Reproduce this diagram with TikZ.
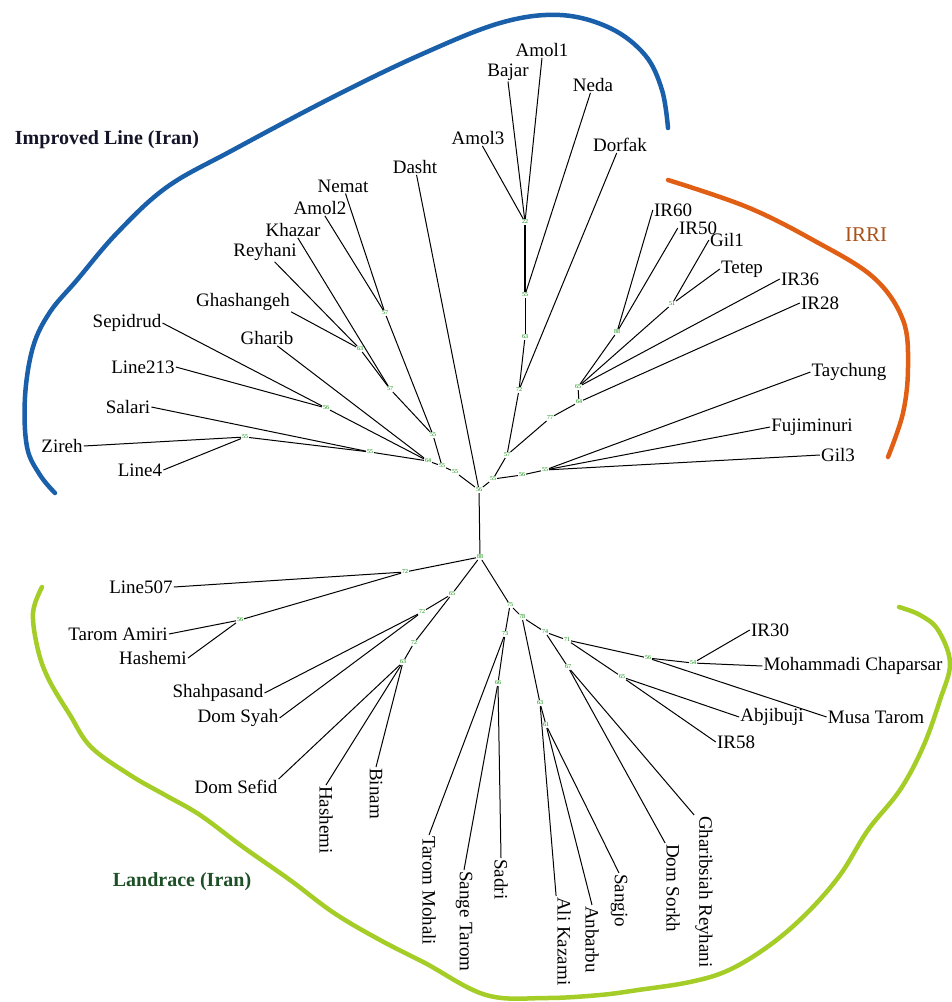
\documentclass[tikz,border=0pt]{standalone}
\usepackage{fontspec}
\setmainfont{Liberation Serif}
\usepackage{xcolor}
\usepackage{tikz}
\definecolor{impblue}{RGB}{25,95,170}
\definecolor{irrior}{RGB}{225,95,20}
\definecolor{landgr}{RGB}{165,205,40}
\definecolor{irritxt}{RGB}{170,80,25}
\definecolor{landtxt}{RGB}{30,80,40}
\definecolor{imptxt}{RGB}{20,20,40}

\begin{document}
\begin{tikzpicture}[x=1pt,y=-1pt,
  lf/.style={font=\fontsize{19}{21}\selectfont,inner sep=1pt},
  vl/.style={lf,rotate=-90,anchor=west},
  bs/.style={font=\fontsize{6}{6}\selectfont,text=green!55!black,inner sep=0.8pt},
  grp/.style={line width=4.5pt,line cap=round,line join=round},
  gtxt/.style={font=\fontsize{20}{22}\selectfont\bfseries,inner sep=1pt}]
\useasboundingbox (0,0) rectangle (952,1002);
% group outlines
\draw[grp,impblue] plot[smooth,tension=0.6] coordinates {(55,493) (40,475) (27,447) (25,397) (33,347) (50,312) (77,280) (117,233) (167,187) (233,150) (333,97) (420,55) (500,23) (560,15) (610,28) (645,55) (662,90) (668,128)};
\draw[grp,irrior] plot[smooth,tension=0.6] coordinates {(668,180) (747,207) (813,240) (873,277) (903,320) (908,367) (903,413) (888,457)};
\draw[grp,landgr] plot[smooth,tension=0.6] coordinates {(42,587) (33,613) (38,650) (49,680) (70,715) (91,747) (130,775) (165,795) (200,815) (243,847) (290,880) (334,913) (380,940) (425,963) (486,995) (546,998) (600,995) (638,990) (690,982) (729,970) (770,945) (807,913) (840,875) (868,830) (900,790) (923,747) (940,700) (950,663) (938,630) (920,615) (899,607)};
\node[gtxt,imptxt] (gimp) at (107,140) {Improved Line (Iran)};
\node[lf,irritxt,font=\fontsize{21}{23}\selectfont] (girri) at (866,235) {IRRI};
\node[gtxt,landtxt] (gland) at (182,882) {Landrace (Iran)};
% inner nodes with bootstrap values
\foreach \n/\x/\y/\v in {ru/479/490/56, l6/455/472/55, l5/442/466/55, l4/428/461/64, l2/370/452/55,
  l1/245/437/55, l3/326/408/56, k4/433/435/55, k1/385/313/57, k2/360/349/63, k3/390/389/57,
  r1/493/479/55, r2/507/455/57, r3/519/390/72, r4/525/337/63, r5/525/295/55, r6/525/222/22,
  s1/550/418/77, s2/579/402/64, s3/578/387/65, s4/617/332/88, s5/672/304/51, t1/522/475/56, t2/545/470/55,
  rl/480/557/88, m1/405/572/72, m2/240/620/56, m3/452/594/65, m4/422/612/72, m5/414/643/72, m6/403/662/63,
  n1/510/605/75, n2/505/634/73, n3/522/617/78, n4/498/683/66, n5/540/703/63, n7/546/725/61,
  n6/545/632/74, n8/568/667/67, n9/567/640/71, n10/648/658/56, n12/693/663/54, n11/622/677/65}
  {\node[bs] (\n) at (\x,\y) {\v};}
% upper leaves
\node[lf] (amol1) at (542,50) {Amol1};
\node[lf] (bajar) at (508,72) {Bajar};
\node[lf] (amol3) at (478,138) {Amol3};
\node[lf] (neda) at (593,85) {Neda};
\node[lf] (dorfak) at (620,145) {Dorfak};
\node[lf] (dasht) at (415,167) {Dasht};
\node[lf] (nemat) at (343,186) {Nemat};
\node[lf] (amol2) at (320,208) {Amol2};
\node[lf] (khazar) at (293,230) {Khazar};
\node[lf] (reyhani) at (265,252) {Reyhani};
\node[lf] (ghashangeh) at (243,302) {Ghashangeh};
\node[lf] (gharib) at (267,338) {Gharib};
\node[lf] (sepidrud) at (127,323) {Sepidrud};
\node[lf] (line213) at (143,367) {Line213};
\node[lf] (salari) at (128,407) {Salari};
\node[lf] (zireh) at (62,446) {Zireh};
\node[lf] (line4) at (140,470) {Line4};
\node[lf] (ir60) at (673,210) {IR60};
\node[lf] (ir50) at (698,228) {IR50};
\node[lf] (gil1) at (727,240) {Gil1};
\node[lf] (tetep) at (742,269) {Tetep};
\node[lf] (ir36) at (800,279) {IR36};
\node[lf] (ir28) at (820,303) {IR28};
\node[lf] (taychung) at (849,372) {Taychung};
\node[lf] (fujiminuri) at (812,427) {Fujiminuri};
\node[lf] (gil3) at (838,455) {Gil3};
% lower leaves
\node[lf] (line507) at (141,587) {Line507};
\node[lf] (taromamiri) at (118,634) {Tarom Amiri};
\node[lf] (hashemia) at (153,658) {Hashemi};
\node[lf] (shahpasand) at (218,693) {Shahpasand};
\node[lf] (domsyah) at (238,718) {Dom Syah};
\node[lf] (domsefid) at (236,787) {Dom Sefid};
\node[vl] (hashemib) at (326,785) {Hashemi};
\node[vl] (binam) at (376,767) {Binam};
\node[vl] (tarommohali) at (429,835) {Tarom Mohali};
\node[vl] (sangetarom) at (464,870) {Sange Tarom};
\node[vl] (sadri) at (501,858) {Sadri};
\node[vl] (alikazami) at (564,896) {Ali Kazami};
\node[vl] (anbarbu) at (592,905) {Anbarbu};
\node[vl] (sangjo) at (619,873) {Sangjo};
\node[vl] (domsorkh) at (673,843) {Dom Sorkh};
\node[vl] (gharibsiah) at (704,815) {Gharibsiah Reyhani};
\node[lf] (ir30) at (770,630) {IR30};
\node[lf] (mohammadi) at (853,666) {Mohammadi Chaparsar};
\node[lf] (musatarom) at (876,717) {Musa Tarom};
\node[lf] (abjibuji) at (772,717) {Abjibuji};
\node[lf] (ir58) at (736,742) {IR58};
% branches
\foreach \a/\b in {ru/l6, l6/l5, l5/l4, l4/l2, l2/l1, l1/zireh.east, l1/line4.east, l2/salari.east,
  l4/l3, l3/sepidrud.east, l3/line213.east, l4/gharib, l5/k4, k4/k1, k1/nemat, k1/amol2, k4/k3,
  k3/k2, k2/reyhani, k2/ghashangeh.south east, k3/khazar, ru/dasht,
  ru/r1, r1/r2, r1/t1, t1/t2, t2/taychung.west, t2/fujiminuri.west, t2/gil3.west, r2/r3, r2/s1,
  r3/r4, r3/dorfak, r4/r5, r5/neda, r6/bajar.south, r6/amol1.south, r6/amol3, s1/s2, s2/s3,
  s2/ir28.west, s3/s4, s3/s5, s3/ir36.west, s4/ir60.west, s4/ir50.west, s5/gil1.west, s5/tetep.west,
  ru/rl, rl/m1, m1/line507.east, m1/m2, m2/taromamiri.east, m2/hashemia.east, rl/m3, m3/m4,
  m4/shahpasand.east, m4/domsyah.east, m3/m5, m5/m6, m6/domsefid.north east, m6/hashemib.west, m6/binam.west,
  rl/n1, n1/n2, n2/tarommohali.west, n2/n4, n4/sangetarom.west, n4/sadri.west, n1/n3, n3/n5,
  n5/alikazami.south west, n5/n7, n7/anbarbu.west, n7/sangjo.west, n3/n6, n6/n8, n8/domsorkh.south west,
  n8/gharibsiah.south west, n6/n9, n9/n10, n10/n12, n12/ir30.west, n12/mohammadi.west,
  n10/musatarom.west, n9/n11, n11/abjibuji.west, n11/ir58.west}
  {\draw[line width=1pt] (\a) -- (\b);}
\draw[line width=2pt] (r5) -- (r6);
\end{tikzpicture}
\end{document}
